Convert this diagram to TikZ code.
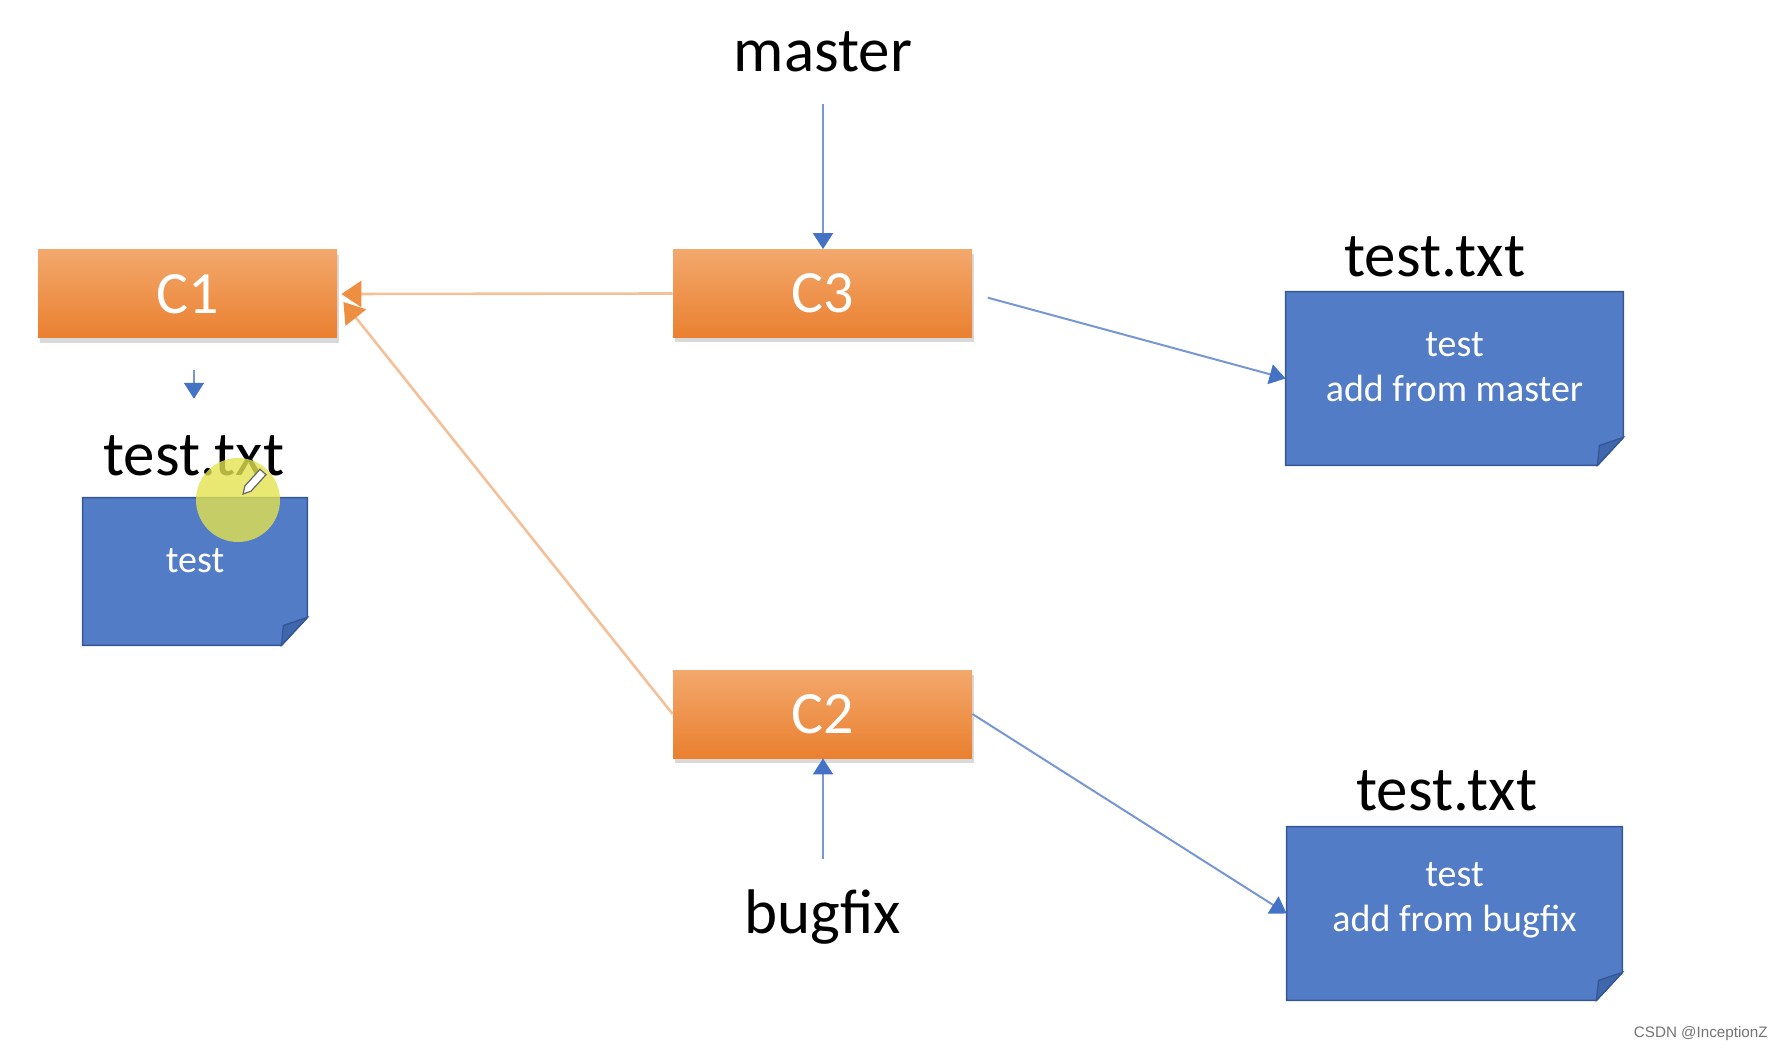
\documentclass[tikz,border=0pt]{standalone}
\usepackage{fontspec}
\setmainfont{Carlito}
\newfontfamily\markfont{Liberation Sans}
\usetikzlibrary{arrows.meta,shadows,backgrounds}

\definecolor{commitTop}{RGB}{243,168,108}
\definecolor{commitBot}{RGB}{234,128,48}
\definecolor{sheetBlue}{RGB}{83,124,199}
\definecolor{sheetEdge}{RGB}{52,86,148}
\definecolor{foldBlue}{RGB}{64,102,172}
\definecolor{linkBlue}{RGB}{118,150,212}
\definecolor{tipBlue}{RGB}{68,114,196}
\definecolor{parentLine}{RGB}{244,192,152}
\definecolor{parentTip}{RGB}{238,142,64}
\definecolor{cursorYellow}{RGB}{226,226,80}

\begin{document}
\begin{tikzpicture}[x=0.5pt,y=0.5pt,yscale=-1,
    commit/.style={minimum width=149.5pt,minimum height=44pt,inner sep=0pt,
      top color=commitTop,bottom color=commitBot,
      drop shadow={opacity=0.3,shadow xshift=0.8pt,shadow yshift=-2.5pt},
      text=white,font=\fontsize{30}{36}\selectfont},
    sheet/.style={minimum height=86.5pt,inner sep=0pt},
    sheetbody/.style={fill=sheetBlue,draw=sheetEdge,line width=0.8pt},
    sheetfold/.style={fill=foldBlue,draw=sheetEdge,line width=0.6pt},
    sheettext/.style={text=white,align=center,inner sep=0pt,
      font=\fontsize{19}{22.5}\selectfont},
    filename/.style={anchor=base,inner sep=0pt,font=\fontsize{31.5}{36}\selectfont},
    branch/.style={anchor=base,inner sep=0pt,font=\fontsize{31.5}{36}\selectfont},
    pointer/.style={draw=linkBlue,line width=1pt,
      -{Triangle[length=8pt,width=10pt,color=tipBlue]}},
    parent/.style={draw=parentLine,line width=1.3pt,
      -{Triangle[length=10pt,width=13pt,color=parentTip]}},
    cursor/.style={fill=cursorYellow,fill opacity=0.8}]
  \useasboundingbox (0,0) rectangle (1784,1048);

  % commits
  \node[commit] (C1) at (187.5,294) {C1};
  \node[commit] (C3) at (822.5,293.5) {C3};
  \node[commit] (C2) at (822.5,714) {C2};

  % branch names
  \node[branch] (master) at (823,72) {master};
  \node[branch] (bugfix) at (823,933) {bugfix};

  % files
  \node[sheet,minimum width=112pt,minimum height=73.5pt] (f1) at (195,571.5) {};
  \node[sheet,minimum width=168.5pt] (f2) at (1454.5,378.5) {};
  \node[sheet,minimum width=167.5pt] (f3) at (1454.5,913.5) {};
  \begin{scope}[on background layer]
    \foreach \f in {f1,f2,f3}{
      \filldraw[sheetbody] (\f.north west) -- (\f.north east) -- ([yshift=-14pt]\f.south east)
        -- ([xshift=-13pt]\f.south east) -- (\f.south west) -- cycle;
      \filldraw[sheetfold] ([yshift=-14pt]\f.south east) -- ([xshift=-13pt]\f.south east)
        -- ([xshift=-12pt,yshift=-10pt]\f.south east) -- cycle;
    }
  \end{scope}
  \node[sheettext] (f1t) at ([yshift=-5.5pt]f1.center) {test};
  \node[sheettext] (f2t) at ([yshift=-5.5pt]f2.center) {test\\add from master};
  \node[sheettext] (f3t) at ([yshift=-6.5pt]f3.center) {test\\add from bugfix};

  \node[filename] (f1lbl) at (194,475) {test.txt};
  \node[filename] (f2lbl) at (1435,277) {test.txt};
  \node[filename] (f3lbl) at (1447,810) {test.txt};

  % parents
  \draw[parent] (C3.west) -- ([xshift=2pt]C1.east);
  \draw[parent] (C2.west) -- ([xshift=3pt,yshift=4pt]C1.east);

  % pointers
  \draw[pointer,shorten <=15.5pt] (master.south) -- (master.south |- C3.north);
  \draw[pointer,shorten <=15pt] (bugfix.north) -- (bugfix.north |- C2.south);
  \draw[pointer,shorten <=16pt,shorten >=18pt] (f1lbl.north |- C1.south) -- (f1lbl.north);
  \draw[pointer,shorten <=8pt] (C3.east) -- (f2.west);
  \draw[pointer] (C2.east) -- (f3.west);

  % cursor mark
  \fill[cursor] (238,500) circle[radius=21pt];
  \filldraw[fill=white,draw=black!60,line width=0.6pt] (260,469.3) -- (266,474.7) -- (251,491.2)
    -- (243,494) -- (245,485.8) -- cycle;

  \node[anchor=base east,inner sep=0pt,text=black!55,font=\markfont\fontsize{7.6}{9}\selectfont]
    (wm) at (1768,1037) {CSDN @InceptionZ};
\end{tikzpicture}
\end{document}
